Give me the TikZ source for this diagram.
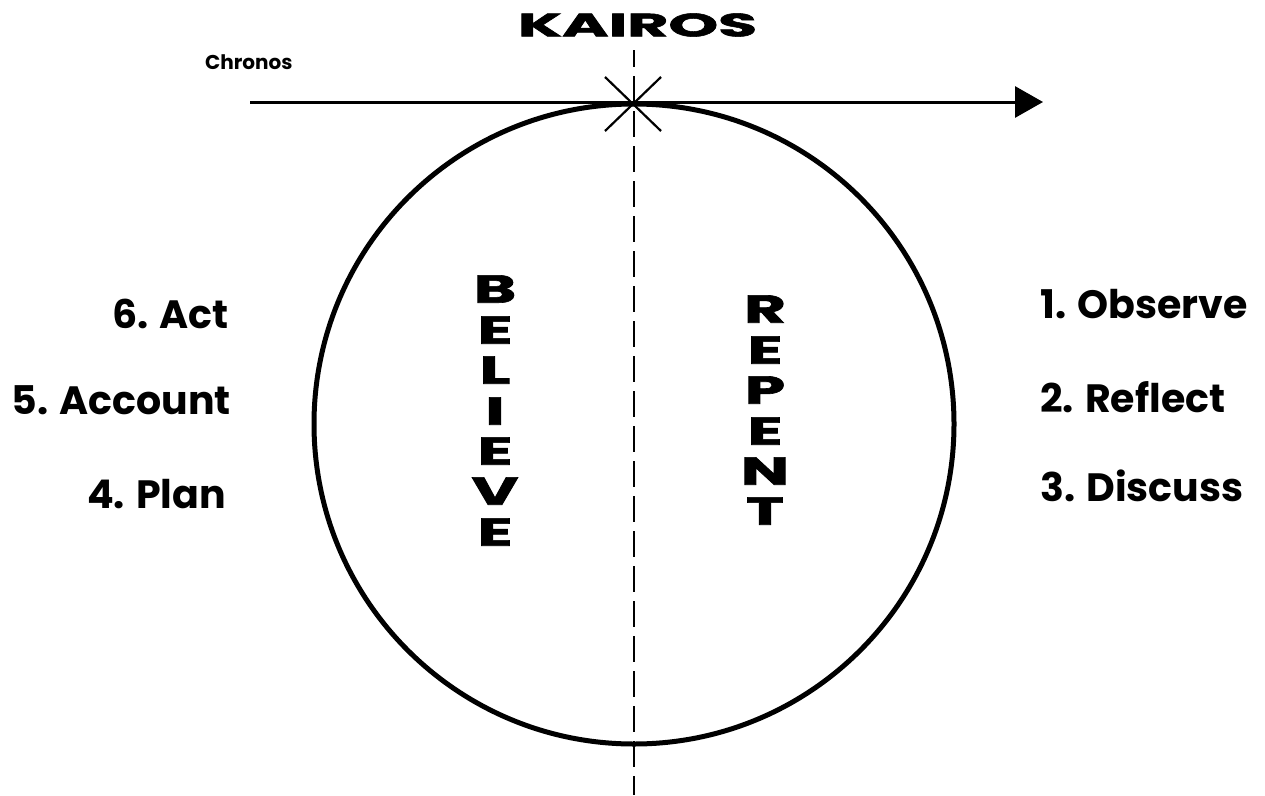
\documentclass[tikz,border=0pt]{standalone}
\usepackage{fontspec}
\usepackage{graphicx}
\setmainfont{Poppins}
\newfontfamily\heavyfont{Poppins}[BoldFeatures={FakeBold=1.6}]
\usetikzlibrary{arrows.meta}
\newcommand\extletter[1]{\scalebox{1.65}[1]{#1}}
\begin{document}
\begin{tikzpicture}[x=1pt,y=-1pt,
  label/.style={inner sep=0pt, font=\fontsize{39.5}{39.5}\selectfont\bfseries},
  vletter/.style={inner sep=0pt, font=\fontsize{39}{39}\selectfont\heavyfont\bfseries},
  axis/.style={line width=3pt},
  kcross/.style={line width=2.2pt},
  divider/.style={line width=2.6pt, dash pattern=on 26pt off 9pt, dash phase=9pt}]
\useasboundingbox (0,0) rectangle (1265,795);
% circle
\node[circle, draw, line width=5pt, minimum size=640pt, inner sep=0pt] (cyc) at (634,424) {};
% dashed divider
\coordinate (divTop) at (634,50);
\coordinate (divBot) at (634,795);
\draw[divider] (divTop) -- (divBot);
% chronos axis
\coordinate (chrStart) at (250,102);
\coordinate (chrEnd) at (1043,102);
\draw[axis, -{Triangle[length=28pt,width=31pt]}] (chrStart) -- (chrEnd);
% kairos cross
\coordinate (k1) at (605,77);
\coordinate (k2) at (661,131);
\coordinate (k3) at (661,77);
\coordinate (k4) at (605,131);
\draw[kcross] (k1) -- (k2);
\draw[kcross] (k3) -- (k4);
% titles
\node[inner sep=0pt] (kairos) at (637.5,25) {\resizebox{239pt}{23pt}{\heavyfont\bfseries KAIROS}};
\node[inner sep=0pt, anchor=base west, font=\fontsize{20}{20}\selectfont\bfseries] (chronos) at (205,69) {Chronos};
% left labels
\node[label, anchor=base east] (act) at (229,328) {6. Act};
\node[label, anchor=base east] (account) at (231,414) {5. Account};
\node[label, anchor=base east] (plan) at (226,508) {4. Plan};
% right labels
\node[label, anchor=base west] (observe) at (1040,318) {1. Observe};
\node[label, anchor=base west] (reflect) at (1040,412) {2. Reflect};
\node[label, anchor=base west] (discuss) at (1040,501) {3. Discuss};
% BELIEVE
\node[vletter] (b1) at (495,289) {\extletter{B}};
\node[vletter] (b2) at (495,330) {\extletter{E}};
\node[vletter] (b3) at (495,370) {\extletter{L}};
\node[vletter] (b4) at (495,411) {\extletter{I}};
\node[vletter] (b5) at (495,451) {\extletter{E}};
\node[vletter] (b6) at (495,491) {\extletter{V}};
\node[vletter] (b7) at (495,532) {\extletter{E}};
% REPENT
\node[vletter] (r1) at (765,309) {\extletter{R}};
\node[vletter] (r2) at (765,350) {\extletter{E}};
\node[vletter] (r3) at (765,390) {\extletter{P}};
\node[vletter] (r4) at (765,431) {\extletter{E}};
\node[vletter] (r5) at (765,471) {\extletter{N}};
\node[vletter] (r6) at (765,511) {\extletter{T}};
\end{tikzpicture}
\end{document}
